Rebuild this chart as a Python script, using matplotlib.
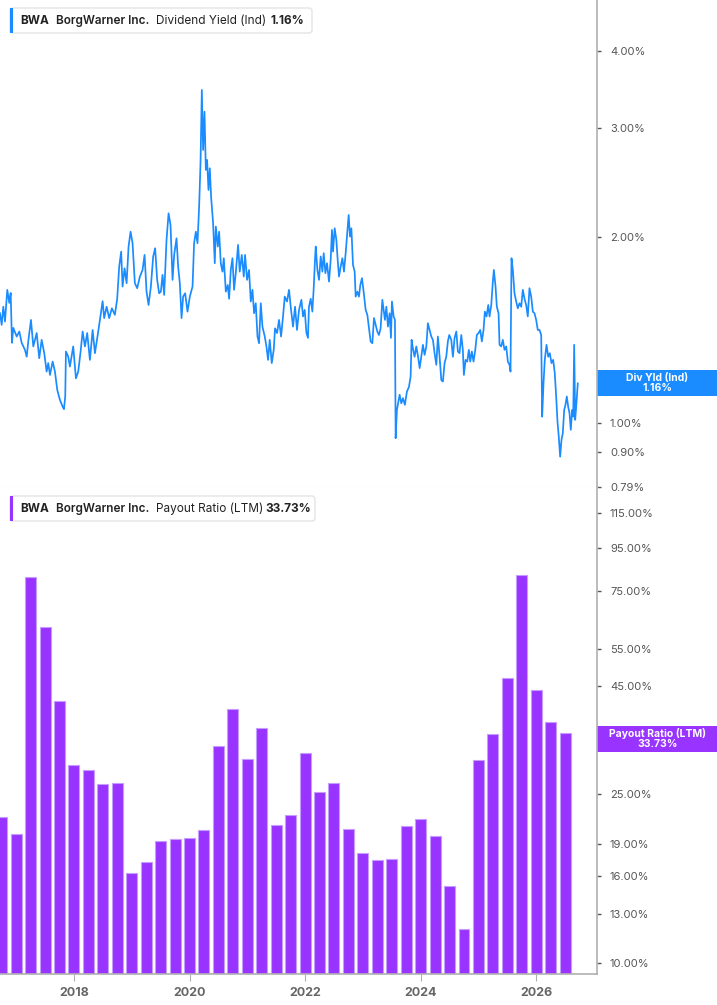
import numpy as np
import matplotlib
matplotlib.use("Agg")
import matplotlib.pyplot as plt
from matplotlib.patches import Rectangle, FancyBboxPatch
from matplotlib.transforms import IdentityTransform
from matplotlib.ticker import FixedLocator, NullLocator, NullFormatter

plt.rcParams['font.family'] = ['Inter', 'DejaVu Sans']

# --- dividend yield (Ind), % , fractional years ---
div_dates = [
    2016.720, 2016.749, 2016.777, 2016.806, 2016.846, 2016.881, 2016.905, 2016.927, 2016.950, 2017.009,
    2017.054, 2017.095, 2017.152, 2017.182, 2017.209, 2017.256, 2017.296, 2017.355, 2017.399, 2017.441,
    2017.486, 2017.527, 2017.555, 2017.585, 2017.631, 2017.671, 2017.711, 2017.757, 2017.804, 2017.827,
    2017.849, 2017.861, 2017.901, 2017.930, 2017.987, 2018.034, 2018.074, 2018.115, 2018.150, 2018.190,
    2018.229, 2018.276, 2018.323, 2018.363, 2018.420, 2018.461, 2018.496, 2018.523, 2018.565, 2018.610,
    2018.656, 2018.708, 2018.748, 2018.783, 2018.817, 2018.841, 2018.876, 2018.911, 2018.945, 2018.980,
    2019.014, 2019.054, 2019.094, 2019.141, 2019.187, 2019.222, 2019.256, 2019.291, 2019.331, 2019.371,
    2019.405, 2019.440, 2019.474, 2019.504, 2019.533, 2019.561, 2019.602, 2019.637, 2019.671, 2019.706,
    2019.734, 2019.775, 2019.803, 2019.832, 2019.862, 2019.889, 2019.924, 2019.965, 2020.005, 2020.052,
    2020.079, 2020.109, 2020.138, 2020.166, 2020.190, 2020.213, 2020.235, 2020.259, 2020.282, 2020.304,
    2020.328, 2020.351, 2020.373, 2020.408, 2020.437, 2020.455, 2020.489, 2020.512, 2020.541, 2020.570,
    2020.593, 2020.628, 2020.662, 2020.685, 2020.714, 2020.743, 2020.771, 2020.800, 2020.840, 2020.869,
    2020.904, 2020.939, 2020.961, 2020.996, 2021.030, 2021.060, 2021.089, 2021.117, 2021.146, 2021.176,
    2021.203, 2021.233, 2021.262, 2021.302, 2021.331, 2021.359, 2021.388, 2021.423, 2021.457, 2021.480,
    2021.515, 2021.549, 2021.584, 2021.618, 2021.648, 2021.687, 2021.722, 2021.757, 2021.791, 2021.826,
    2021.860, 2021.895, 2021.936, 2021.964, 2021.993, 2022.023, 2022.050, 2022.067, 2022.097, 2022.126,
    2022.149, 2022.171, 2022.184, 2022.213, 2022.241, 2022.270, 2022.299, 2022.322, 2022.351, 2022.379,
    2022.414, 2022.443, 2022.465, 2022.483, 2022.512, 2022.541, 2022.564, 2022.587, 2022.616, 2022.645,
    2022.673, 2022.702, 2022.732, 2022.754, 2022.777, 2022.801, 2022.829, 2022.858, 2022.875, 2022.905,
    2022.932, 2022.956, 2022.984, 2023.013, 2023.048, 2023.077, 2023.105, 2023.134, 2023.164, 2023.192,
    2023.221, 2023.250, 2023.278, 2023.307, 2023.337, 2023.359, 2023.382, 2023.406, 2023.434, 2023.463,
    2023.486, 2023.503, 2023.532, 2023.555, 2023.567, 2023.589, 2023.619, 2023.636, 2023.665, 2023.693,
    2023.727, 2023.762, 2023.797, 2023.826, 2023.843, 2023.866, 2023.895, 2023.925, 2023.959, 2023.982,
    2024.011, 2024.039, 2024.068, 2024.098, 2024.125, 2024.155, 2024.184, 2024.212, 2024.241, 2024.271,
    2024.298, 2024.328, 2024.357, 2024.385, 2024.414, 2024.443, 2024.471, 2024.495, 2024.530, 2024.558,
    2024.587, 2024.617, 2024.644, 2024.673, 2024.703, 2024.730, 2024.748, 2024.777, 2024.806, 2024.834,
    2024.858, 2024.886, 2024.915, 2024.945, 2024.972, 2025.002, 2025.031, 2025.059, 2025.088, 2025.111,
    2025.140, 2025.170, 2025.192, 2025.222, 2025.249, 2025.267, 2025.296, 2025.318, 2025.348, 2025.365,
    2025.394, 2025.422, 2025.451, 2025.481, 2025.509, 2025.538, 2025.555, 2025.572, 2025.595, 2025.624,
    2025.653, 2025.681, 2025.711, 2025.740, 2025.768, 2025.797, 2025.826, 2025.854, 2025.883, 2025.913,
    2025.941, 2025.970, 2025.999, 2026.027, 2026.057, 2026.086, 2026.103, 2026.126, 2026.148, 2026.178,
    2026.207, 2026.235, 2026.264, 2026.293, 2026.321, 2026.345, 2026.368, 2026.390, 2026.414, 2026.437,
    2026.460, 2026.484, 2026.506, 2026.529, 2026.553, 2026.576, 2026.598, 2026.622, 2026.640, 2026.657,
    2026.674, 2026.696, 2026.719,
]
div_yield = [
    1.506, 1.442, 1.543, 1.460, 1.643, 1.565, 1.624, 1.349, 1.426, 1.381,
    1.407, 1.349, 1.314, 1.281, 1.356, 1.469, 1.331, 1.399, 1.274, 1.364,
    1.298, 1.212, 1.251, 1.197, 1.258, 1.212, 1.132, 1.091, 1.064, 1.054,
    1.105, 1.306, 1.281, 1.235, 1.331, 1.182, 1.212, 1.306, 1.407, 1.331,
    1.399, 1.266, 1.415, 1.298, 1.407, 1.497, 1.575, 1.479, 1.543, 1.479,
    1.534, 1.497, 1.589, 1.792, 1.894, 1.663, 1.780, 1.684, 1.930, 2.040,
    1.954, 1.684, 1.653, 1.726, 1.769, 1.871, 1.632, 1.553, 1.663, 1.860,
    1.918, 1.705, 1.622, 1.632, 1.737, 1.612, 1.978, 2.184, 2.092, 1.705,
    1.871, 1.990, 1.792, 1.684, 1.479, 1.602, 1.622, 1.515, 1.602, 1.663,
    1.954, 2.040, 1.954, 2.239, 2.631, 3.456, 2.765, 3.187, 2.567, 2.664,
    2.382, 2.583, 2.324, 2.105, 1.814, 2.079, 1.930, 2.040, 1.814, 1.758,
    1.848, 1.632, 1.673, 1.589, 1.769, 1.848, 1.643, 1.748, 1.942, 1.758,
    1.871, 1.726, 1.871, 1.705, 1.769, 1.573, 1.643, 1.506, 1.563, 1.381,
    1.347, 1.563, 1.433, 1.381, 1.331, 1.266, 1.364, 1.251, 1.314, 1.424,
    1.399, 1.469, 1.381, 1.488, 1.602, 1.573, 1.643, 1.525, 1.433, 1.543,
    1.415, 1.525, 1.583, 1.488, 1.525, 1.399, 1.374, 1.543, 1.589, 1.515,
    1.653, 1.837, 1.930, 1.769, 1.705, 1.860, 1.758, 1.883, 1.748, 1.814,
    1.694, 1.837, 2.053, 1.894, 2.066, 1.978, 1.837, 1.726, 1.792, 1.848,
    1.758, 1.883, 2.040, 2.171, 2.003, 2.066, 1.803, 1.758, 1.602, 1.632,
    1.602, 1.673, 1.716, 1.632, 1.525, 1.497, 1.424, 1.356, 1.347, 1.479,
    1.442, 1.407, 1.389, 1.424, 1.583, 1.525, 1.469, 1.543, 1.433, 1.506,
    1.374, 1.573, 1.488, 1.469, 0.946, 1.051, 1.091, 1.112, 1.077, 1.098,
    1.071, 1.125, 1.145, 1.189, 1.364, 1.321, 1.281, 1.331, 1.274, 1.228,
    1.281, 1.339, 1.290, 1.331, 1.451, 1.415, 1.381, 1.364, 1.298, 1.243,
    1.381, 1.281, 1.175, 1.168, 1.251, 1.281, 1.356, 1.389, 1.364, 1.281,
    1.374, 1.407, 1.306, 1.298, 1.389, 1.314, 1.197, 1.266, 1.258, 1.314,
    1.258, 1.306, 1.258, 1.314, 1.389, 1.399, 1.415, 1.356, 1.415, 1.515,
    1.488, 1.553, 1.488, 1.553, 1.694, 1.769, 1.663, 1.543, 1.506, 1.339,
    1.331, 1.364, 1.314, 1.331, 1.258, 1.243, 1.212, 1.848, 1.769, 1.622,
    1.573, 1.534, 1.563, 1.543, 1.643, 1.589, 1.553, 1.488, 1.653, 1.602,
    1.515, 1.506, 1.469, 1.415, 1.415, 1.389, 1.025, 1.161, 1.266, 1.339,
    1.281, 1.298, 1.251, 1.266, 1.205, 1.105, 1.006, 0.952, 0.883, 0.940,
    0.964, 1.051, 1.071, 1.105, 1.064, 1.038, 0.976, 1.051, 1.025, 1.339,
    1.013, 1.077, 1.160,
]

# --- payout ratio (LTM), %, quarterly ---
payout_dates = [
    2016.75, 2017.00, 2017.25, 2017.50, 2017.75, 2018.00, 2018.25, 2018.50, 2018.75, 2019.00,
    2019.25, 2019.50, 2019.75, 2020.00, 2020.25, 2020.50, 2020.75, 2021.00, 2021.25, 2021.50,
    2021.75, 2022.00, 2022.25, 2022.50, 2022.75, 2023.00, 2023.25, 2023.50, 2023.75, 2024.00,
    2024.25, 2024.50, 2024.75, 2025.00, 2025.25, 2025.50, 2025.75, 2026.00, 2026.25, 2026.50,
]
payout_ratio = [
    21.0, 19.1, 80.1, 60.9, 40.4, 28.2, 27.4, 25.4, 25.5, 15.3,
    16.3, 18.4, 18.6, 18.7, 19.6, 31.4, 38.7, 29.2, 34.7, 20.1,
    21.3, 30.2, 24.3, 25.5, 19.7, 17.1, 16.5, 16.6, 20.0, 20.8,
    18.9, 14.2, 11.0, 29.0, 33.6, 45.8, 81.0, 43.0, 36.0, 33.73,
]

yield_ticks = [0.79, 0.90, 1.00, 2.00, 3.00, 4.00]
payout_ticks = [10, 13, 16, 19, 25, 45, 55, 75, 95, 115]
year_ticks = [2018, 2020, 2022, 2024, 2026]

W, H = 717, 1005
BLUE, PURPLE = "#1a8cff", "#9933ff"
TICK, SPINE = "#555555", "#b0b0b0"

fig = plt.figure(figsize=(W / 100, H / 100), dpi=100)
ax1 = fig.add_axes([0, 0.5151, 0.8333, 0.4849])
ax2 = fig.add_axes([0, 0.0308, 0.8333, 0.4843])

ax1.plot(div_dates, div_yield, color=BLUE, lw=1.25)
ax2.bar(payout_dates, payout_ratio, width=0.19, bottom=1, color=PURPLE,
        edgecolor="#c59cff", linewidth=0.8)

ax1.set_yscale("log"); ax2.set_yscale("log")
ax1.set_ylim(0.788, 4.83); ax2.set_ylim(9.405, 132)
for ax, ticks in [(ax1, yield_ticks), (ax2, payout_ticks)]:
    ax.set_xlim(2016.72, 2027.06)
    ax.yaxis.tick_right()
    ax.yaxis.set_major_locator(FixedLocator(ticks))
    ax.yaxis.set_minor_locator(NullLocator())
    ax.yaxis.set_minor_formatter(NullFormatter())
    ax.set_yticklabels([f"{t:.2f}%" for t in ticks])
    ax.tick_params(axis="y", which="major", length=3, width=1, color=TICK,
                   labelcolor=TICK, labelsize=8, pad=6)
    ax.spines[["top", "left"]].set_visible(False)
    ax.spines["right"].set_color(SPINE)
    ax.spines["right"].set_linewidth(1.2)

ax1.set_xticks([])
ax1.spines["bottom"].set_color("#dddddd")
ax2.set_xticks(year_ticks)
ax2.set_xticklabels([str(y) for y in year_ticks], fontweight="bold")
ax2.tick_params(axis="x", length=5, color=SPINE, labelcolor="#666666", labelsize=9, pad=4)
ax2.spines["bottom"].set_color(SPINE)
ax2.spines["bottom"].set_linewidth(1.2)


def value_tag(ax, v, text, color):
    y0, y1 = ax.get_ylim()
    axh = ax.get_position().height * H
    k = 10 ** (13 / axh * np.log10(y1 / y0))
    trans = ax.get_yaxis_transform()
    ax.add_patch(Rectangle((1.0, v / k), 0.2, v * k - v / k, transform=trans,
                           facecolor=color, edgecolor="none", clip_on=False))
    ax.text(1.1004, v, text, transform=trans, ha="center", va="center", color="white",
            fontsize=7.5, fontweight="bold", linespacing=1.0, clip_on=False)


value_tag(ax1, div_yield[-1], "Div Yld (Ind)\n1.16%", BLUE)
value_tag(ax2, payout_ratio[-1], "Payout Ratio (LTM)\n33.73%", PURPLE)


def header(y_top, width, color, parts):
    px = IdentityTransform()
    y0 = H - y_top - 25
    fig.add_artist(FancyBboxPatch((10, y0), width, 25, boxstyle="round,pad=0,rounding_size=3",
                                  transform=px, facecolor="white", edgecolor="#e4e4e4", lw=1))
    fig.add_artist(Rectangle((10, y0), 3, 25, transform=px, facecolor=color, edgecolor="none"))
    for x, s, wt in parts:
        fig.text(x, y0 + 12.5, s, transform=px, ha="left", va="center", fontsize=8.5,
                 color="#222222", fontweight=wt)


header(8, 302, BLUE, [(20.7, "BWA", "bold"), (55.7, "BorgWarner Inc.", "semibold"),
                      (155.7, "Dividend Yield (Ind)", "normal"), (270.7, "1.16%", "bold")])
header(496, 305, PURPLE, [(20.7, "BWA", "bold"), (55.7, "BorgWarner Inc.", "semibold"),
                          (155.7, "Payout Ratio (LTM)", "normal"), (265.7, "33.73%", "bold")])

fig.savefig("out.png", dpi=100)
